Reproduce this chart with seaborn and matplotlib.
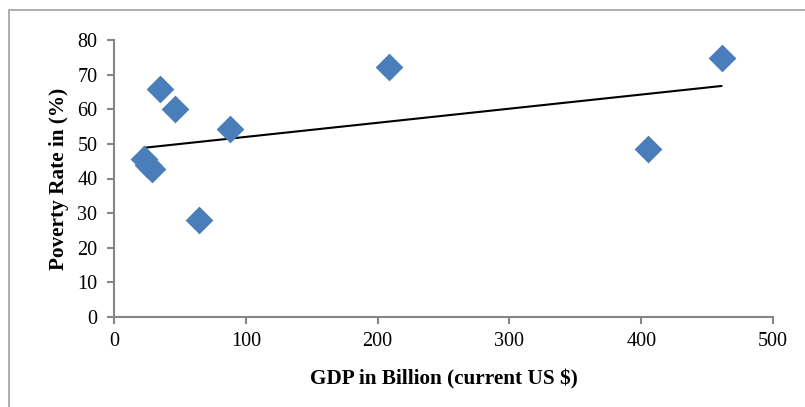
import numpy as np
import pandas as pd
import matplotlib
matplotlib.use("Agg")
import matplotlib.pyplot as plt
import seaborn as sns
from matplotlib.patches import Rectangle

# GDP (billion current US$) and poverty rate (%) per country
gdp = [22.5, 26, 29, 35, 46.5, 64.5, 88, 209, 405, 461]
poverty = [45.5, 44.0, 42.8, 65.8, 60.0, 28.1, 54.2, 72.2, 48.5, 74.8]

x_ticks = [0, 100, 200, 300, 400, 500]
y_ticks = [0, 10, 20, 30, 40, 50, 60, 70, 80]

df = pd.DataFrame({"gdp": gdp, "poverty": poverty})

sns.set_theme(style="white")
plt.rcParams["font.family"] = ["Liberation Serif", "DejaVu Serif"]

fig = plt.figure(figsize=(8.05, 4.07), dpi=100)
ax = fig.add_axes([114 / 805, 1 - 317 / 407, (773 - 114) / 805, (317 - 40) / 407])

spine_col = "#868686"
blue = "#4a7ebb"

sns.scatterplot(data=df, x="gdp", y="poverty", marker="D", s=200,
                color=blue, edgecolor=blue, linewidth=0, ax=ax, zorder=3)

# Linear trend line across the observed range
coef = np.polyfit(df["gdp"], df["poverty"], 1)
xs = np.array([df["gdp"].min(), df["gdp"].max()])
sns.lineplot(x=xs, y=np.polyval(coef, xs), color="black", linewidth=1.5, ax=ax, zorder=2)

ax.set_xlim(0, 500)
ax.set_ylim(0, 80)
ax.set_xticks(x_ticks)
ax.set_yticks(y_ticks)
ax.tick_params(axis="both", direction="out", length=5, width=1.5, color=spine_col,
               labelsize=14.5, labelcolor="black", bottom=True, left=True)
ax.tick_params(axis="y", pad=7)
ax.tick_params(axis="x", pad=6)
for side in ["top", "right"]:
    ax.spines[side].set_visible(False)
for side in ["left", "bottom"]:
    ax.spines[side].set_color(spine_col)
    ax.spines[side].set_linewidth(1.5)

ax.set_xlabel("GDP in Billion (current US $)", fontsize=15.3, fontweight="bold",
              color="black", labelpad=13)
ax.set_ylabel("Poverty Rate in (%)", fontsize=15.3, fontweight="bold",
              color="black", labelpad=6)

# Chart area border
fig.patches.append(Rectangle((9 / 805, -0.1), 1.2, 1 - 10 / 407 + 0.1,
                             transform=fig.transFigure, fill=False,
                             edgecolor="#a0a0a0", linewidth=1.2))

fig.savefig("out.png", dpi=100)
